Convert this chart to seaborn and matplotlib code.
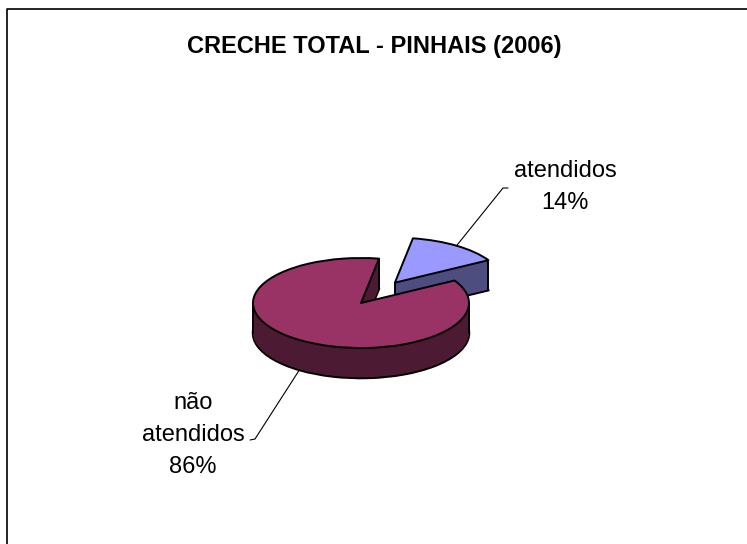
import numpy as np
import matplotlib
matplotlib.use("Agg")
import matplotlib.pyplot as plt
import seaborn as sns

# data
title = "CRECHE TOTAL - PINHAIS (2006)"
labels = ["atendidos", "não atendidos"]
values = [14, 86]
explode = [0.55, 0.0]
top_colors = ["#9999FF", "#993366"]
side_colors = ["#4D4D80", "#4D1A33"]

sns.set_style("white")
plt.rcParams["font.family"] = ["Liberation Sans", "DejaVu Sans"]
plt.rcParams["text.color"] = "black"

W, H = 747, 544
fig = plt.figure(figsize=(W / 100, H / 100), dpi=100)
ax = fig.add_axes([0, 0, 1, 1])

# pie geometry in pixels (centre, radii, side height)
cx, cy = 361, 303
rx, ry = 108, 45
depth = 30 / ry
start = 30
lw = 1.4


def px(x, y):
    # pixel (from top-left) -> data coords
    return (x - cx) / rx, (cy - y) / ry


# extruded side: stack of dark pies from the bottom up, then the top face
n_layers = 45
offsets = np.linspace(depth, 0, n_layers)
for i, k in enumerate(offsets):
    last = i == n_layers - 1
    first = i == 0
    if first or last:
        wp = dict(edgecolor="black", linewidth=lw * (1.3 if first else 1.0),
                  joinstyle="round")
    else:
        wp = dict(edgecolor="none", linewidth=0)
    wedges, _ = ax.pie(values, explode=explode, startangle=start,
                       counterclock=True, center=(0, -k), radius=1,
                       colors=top_colors if last else side_colors,
                       wedgeprops=wp)
    for j, w in enumerate(wedges):
        w.set_zorder((1 if j == 0 else 10) + i * 0.01)

# vertical edges of the visible side
frac = np.cumsum([0] + values) / sum(values)
angles = start + 360 * frac          # slice boundaries in degrees
bis = np.radians((angles[:-1] + angles[1:]) / 2)
off = [(e * np.cos(b), e * np.sin(b)) for e, b in zip(explode, bis)]

edges = []
# small slice: vertex and the corner at its start angle
a0 = np.radians(angles[0])
edges.append((off[0][0], off[0][1], 1.9))
edges.append((off[0][0] + np.cos(a0), off[0][1] + np.sin(a0), 1.9))
# big slice: corner at its start angle and the two extremes of the ellipse
a1 = np.radians(angles[1])
edges.append((np.cos(a1), np.sin(a1), 10.9))
edges.append((-1.0, 0.0, 10.9))
edges.append((1.0, 0.0, 10.9))
for x, y, z in edges:
    ax.plot([x, x], [y, y - depth], color="black", lw=lw, zorder=z,
            solid_capstyle="round")

ax.set_aspect("auto")
ax.set_xlim(-cx / rx, (W - cx) / rx)
ax.set_ylim(-(H - cy) / ry, cy / ry)
ax.axis("off")

# leader lines + labels
texts = ["atendidos\n14%", "não\natendidos\n86%"]
starts = [
    (off[0][0] + np.cos(bis[0]), off[0][1] + np.sin(bis[0])),
    (np.cos(bis[1]), np.sin(bis[1]) - depth),
]
elbows = [px(503, 188), px(255, 439)]
stubs = [px(508, 188), px(250, 440)]
text_pos = [px(565, 187), px(193, 435)]
for s, e, st, tp, t in zip(starts, elbows, stubs, text_pos, texts):
    ax.plot([s[0], e[0], st[0]], [s[1], e[1], st[1]], color="black", lw=0.8, zorder=20)
    ax.text(tp[0], tp[1], t, ha="center", va="center", fontsize=17,
            linespacing=1.6, zorder=21)

# title and the chart-area frame (only left/top visible)
fig.text(374 / W, 1 - 47 / H, title, ha="center", va="center",
         fontsize=17, fontweight="bold")
fig.add_artist(plt.Line2D([6.5 / W, 6.5 / W, 1.01], [-0.01, 1 - 9 / H, 1 - 9 / H],
                          color="black", lw=1.2, transform=fig.transFigure))

fig.savefig("out.png", dpi=100, facecolor="white")
